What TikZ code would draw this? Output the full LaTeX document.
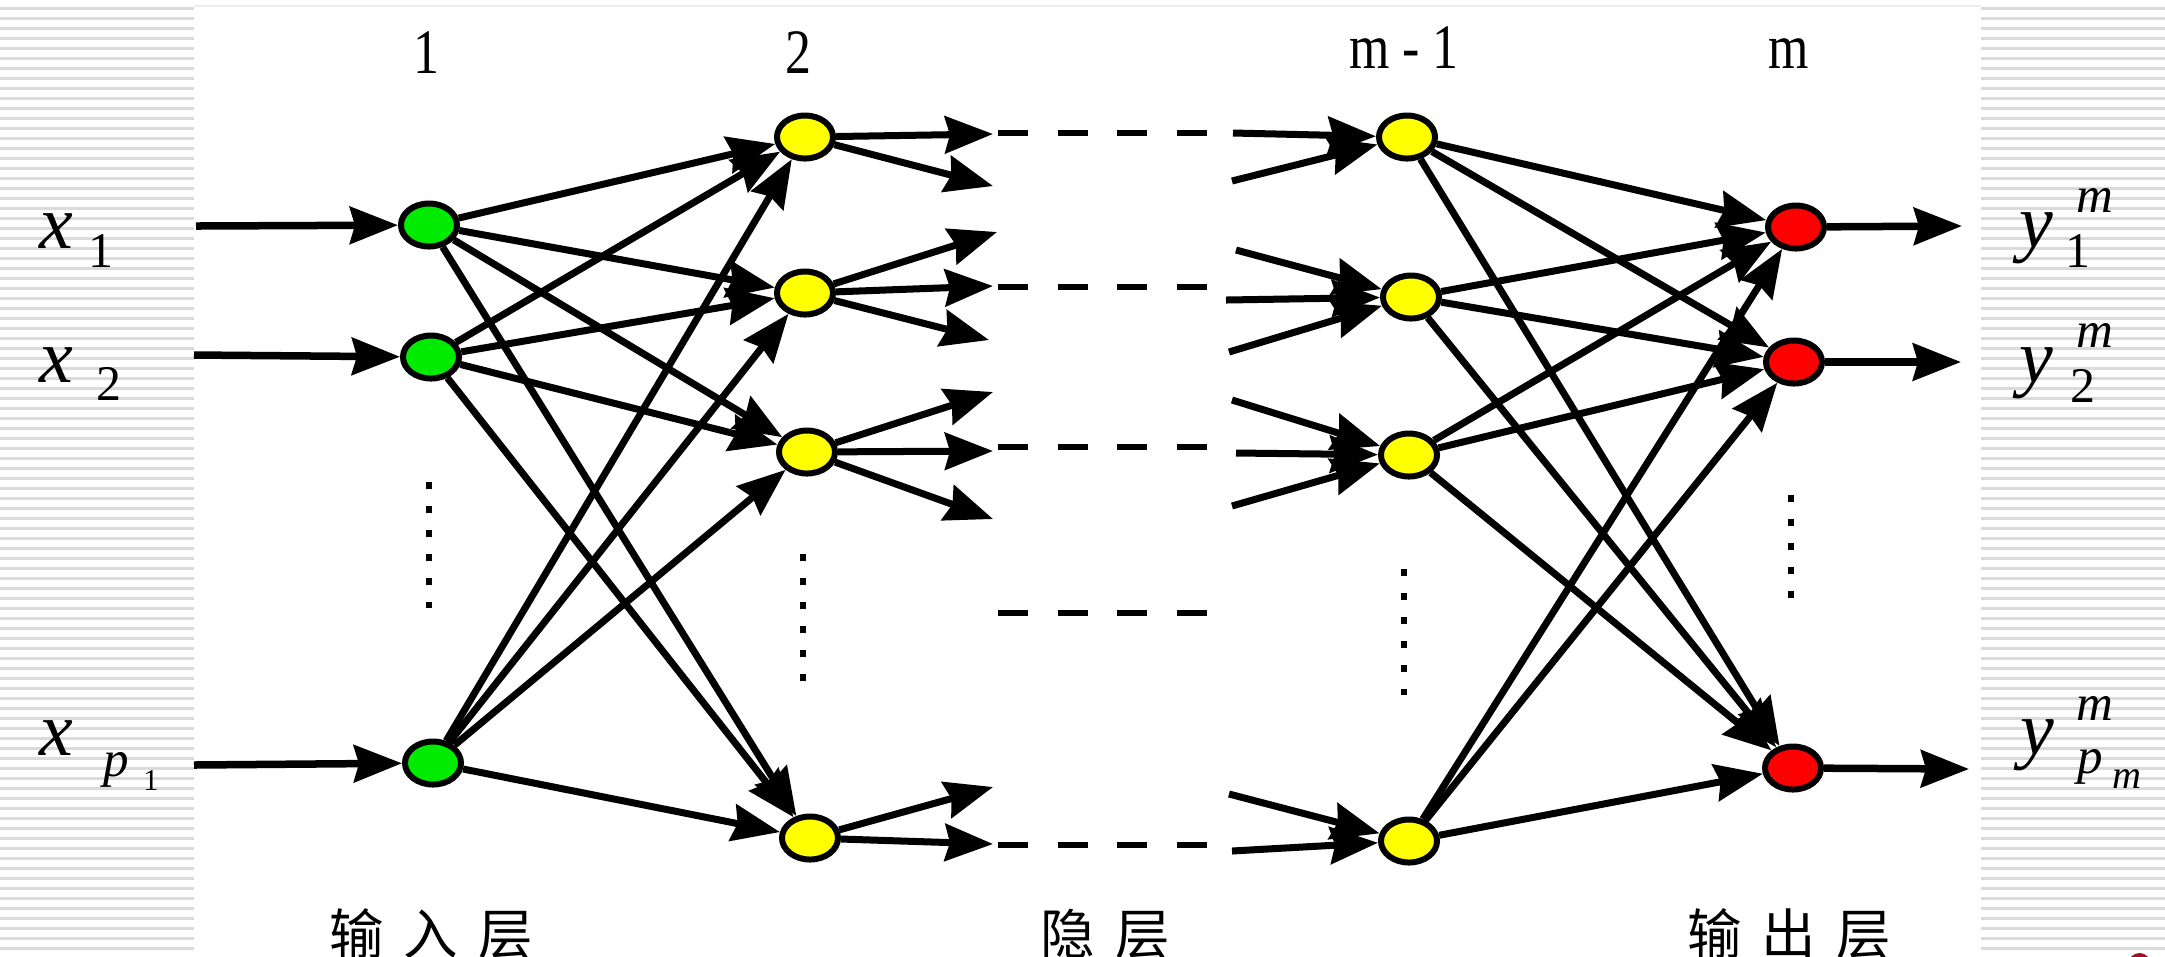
\documentclass[tikz,border=0pt]{standalone}
\usepackage{fontspec}
\setmainfont{Liberation Serif}
\newfontfamily\cjkfont{Noto Sans CJK SC}
\usetikzlibrary{shapes.geometric,arrows.meta}
\definecolor{ngreen}{RGB}{0,235,0}
\definecolor{nyellow}{RGB}{255,255,0}
\definecolor{nred}{RGB}{255,0,0}
\definecolor{stripecol}{RGB}{218,218,218}
\definecolor{dred}{RGB}{160,16,40}
\begin{document}
\begin{tikzpicture}[x=0.01cm,y=-0.01cm,
  neuron/.style={ellipse,draw=black,line width=0.06cm,minimum width=0.56cm,minimum height=0.43cm,inner sep=0pt},
  conn/.style={line width=0.07cm,-{Stealth[length=0.48cm,width=0.37cm,inset=0.05cm]}},
  io/.style={conn,line width=0.075cm},
  dashrow/.style={line width=0.065cm,dash pattern=on 0.30cm off 0.295cm},
  dotcol/.style={line width=0.065cm,dash pattern=on 0.07cm off 0.17cm},
  toplbl/.style={inner sep=0pt,anchor=base,font=\fontsize{18pt}{20pt}\selectfont,xscale=0.82},
  bigit/.style={inner sep=0pt,anchor=base,font=\fontsize{21.6pt}{24pt}\selectfont\itshape},
  subnum/.style={inner sep=0pt,anchor=base,font=\fontsize{14.2pt}{16pt}\selectfont},
  subit/.style={inner sep=0pt,anchor=base,font=\fontsize{14.5pt}{16pt}\selectfont\itshape},
  tinynum/.style={inner sep=0pt,anchor=base,font=\fontsize{8.6pt}{10pt}\selectfont},
  tinyit/.style={inner sep=0pt,anchor=base,font=\fontsize{11.4pt}{13pt}\selectfont\itshape},
  cjklbl/.style={inner sep=0pt,anchor=base,font=\cjkfont\fontsize{15.5pt}{18pt}\selectfont}
]
\useasboundingbox (0,0) rectangle (2165,956);
\clip (0,0) rectangle (2165,956);
\fill[white] (0,0) rectangle (2165,956);
% striped side bands
\foreach \k in {0,...,94}{
  \draw[stripecol,line width=0.025cm] (0,8.3+10*\k) -- (194,8.3+10*\k);
  \draw[stripecol,line width=0.025cm] (1981,8.3+10*\k) -- (2165,8.3+10*\k);
}
\draw[black!7,line width=0.02cm] (194,6) -- (1981,6);
\fill[dred] (2139.5,964) circle[radius=0.11cm];

% neurons
\node[neuron,fill=ngreen] (G1) at (429,225) {};
\node[neuron,fill=ngreen] (G2) at (431,357) {};
\node[neuron,fill=ngreen] (Gp) at (433,763) {};
\node[neuron,fill=nyellow] (Y1) at (805,137) {};
\node[neuron,fill=nyellow] (Y2) at (805,293) {};
\node[neuron,fill=nyellow] (Y3) at (807,452) {};
\node[neuron,fill=nyellow] (Yn) at (810,838) {};
\node[neuron,fill=nyellow] (M1) at (1407,137) {};
\node[neuron,fill=nyellow] (M2) at (1411,297) {};
\node[neuron,fill=nyellow] (M3) at (1409,455) {};
\node[neuron,fill=nyellow] (Mn) at (1409,841) {};
\node[neuron,fill=nred] (R1) at (1796,227) {};
\node[neuron,fill=nred] (R2) at (1794,362) {};
\node[neuron,fill=nred] (Rn) at (1793,768) {};

% free ends
\coordinate (i1) at (196,226);
\coordinate (i2) at (194,355);
\coordinate (i3) at (194,765);
\coordinate (a1) at (993,134);
\coordinate (a2) at (993,186);
\coordinate (b1) at (997,232);
\coordinate (b2) at (993,286);
\coordinate (b3) at (989,340);
\coordinate (c1) at (993,392);
\coordinate (c2) at (993,451);
\coordinate (c3) at (993,519);
\coordinate (d1) at (993,787);
\coordinate (d2) at (993,844);
\coordinate (e1) at (1233,133);
\coordinate (e2) at (1232,181);
\coordinate (f1) at (1236,250);
\coordinate (f2) at (1226,300);
\coordinate (f3) at (1229,352);
\coordinate (g1) at (1232,400);
\coordinate (g2) at (1236,453);
\coordinate (g3) at (1232,506);
\coordinate (h1) at (1229,794);
\coordinate (h2) at (1232,851);
\coordinate (o1) at (1962,226);
\coordinate (o2) at (1961,362);
\coordinate (o3) at (1969,769);

% inputs
\draw[io] (i1) -- (G1);
\draw[io] (i2) -- (G2);
\draw[io] (i3) -- (Gp);
% layer 1 -> layer 2
\foreach \a in {G1,G2,Gp}{\foreach \b in {Y1,Y2,Y3,Yn}{\draw[conn] (\a) -- (\b);}}
% layer 2 outgoing
\foreach \a/\b in {Y1/a1,Y1/a2,Y2/b1,Y2/b2,Y2/b3,Y3/c1,Y3/c2,Y3/c3,Yn/d1,Yn/d2}{\draw[conn] (\a) -- (\b);}
% layer m-1 incoming
\foreach \a/\b in {e1/M1,e2/M1,f1/M2,f2/M2,f3/M2,g1/M3,g2/M3,g3/M3,h1/Mn,h2/Mn}{\draw[conn] (\a) -- (\b);}
% layer m-1 -> layer m
\foreach \a in {M1,M2,M3,Mn}{\foreach \b in {R1,R2,Rn}{\draw[conn] (\a) -- (\b);}}
% outputs
\draw[io] (R1) -- (o1);
\draw[io] (R2) -- (o2);
\draw[io] (Rn) -- (o3);

% hidden dashes
\foreach \yy in {133,287,447,613,845}{\draw[dashrow] (998,\yy) -- (1207,\yy);}
% vertical dots
\draw[dotcol] (429,481.5) -- (429,608);
\draw[dotcol] (803,553.5) -- (803,682);
\draw[dotcol] (1404,568.5) -- (1404,695);
\draw[dotcol] (1791,494.5) -- (1791,598);

% layer numbers
\node[toplbl] (n1) at (426,73) {1};
\node[toplbl] (n2) at (798,73) {2};
\node[toplbl] (nm1) at (1404,68) {m - 1};
\node[toplbl] (nm) at (1789,68) {m};

% input labels
\node[bigit] (lx1) at (56,248) {x};
\node[subnum] (lx1s) at (101,267) {1};
\node[bigit] (lx2) at (56,382) {x};
\node[subnum] (lx2s) at (109,400) {2};
\node[bigit] (lxp) at (56,755) {x};
\node[subit] (lxps) at (116,776) {p};
\node[tinynum] (lxpss) at (151,790) {1};

% output labels
\node[bigit] (ly1) at (2036,247) {y};
\node[subit] (ly1m) at (2095,212) {m};
\node[subnum] (ly1s) at (2078,267) {1};
\node[bigit] (ly2) at (2036,382) {y};
\node[subit] (ly2m) at (2095,347) {m};
\node[subnum] (ly2s) at (2083,402) {2};
\node[bigit] (lyp) at (2037,754) {y};
\node[subit] (lypm) at (2095,720) {m};
\node[subit] (lyps) at (2090,773) {p};
\node[tinyit] (lypss) at (2127,788) {m};

% layer names
\node[cjklbl] (t1) at (431,954) {输\hspace{0.2cm}入\hspace{0.2cm}层};
\node[cjklbl] (t2) at (1105,954) {隐\hspace{0.2cm}层};
\node[cjklbl] (t3) at (1789,954) {输\hspace{0.2cm}出\hspace{0.2cm}层};
\end{tikzpicture}
\end{document}
